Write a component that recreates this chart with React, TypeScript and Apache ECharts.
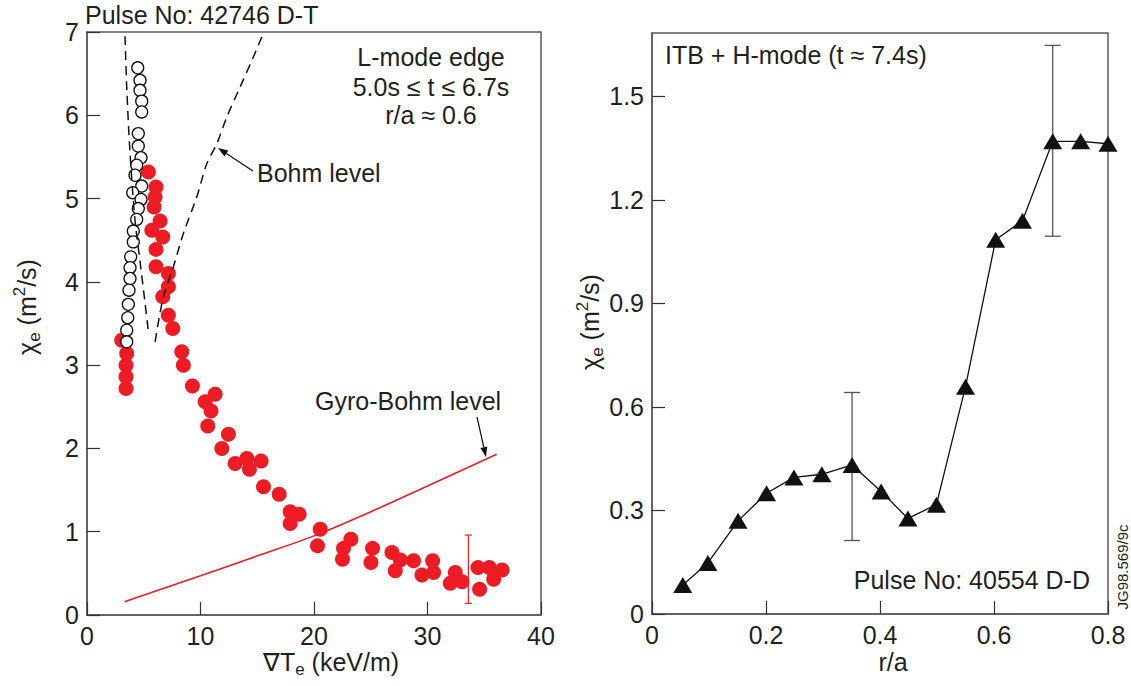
import React, { useEffect, useRef } from 'react';
import * as echarts from 'echarts';

// ---------- Left panel data (Pulse 42746 D-T) ----------
const redPoints: number[][] = [
  [3.06, 3.3], [3.5, 3.14], [3.44, 3.0], [3.44, 2.86], [3.44, 2.72],
  [5.41, 5.32], [6.08, 5.14], [6.0, 5.02], [5.91, 4.9], [6.44, 4.73],
  [5.71, 4.62], [6.68, 4.54], [6.08, 4.39], [6.08, 4.18], [7.17, 4.1],
  [7.17, 3.94], [6.68, 3.82], [7.17, 3.6], [7.56, 3.44], [8.35, 3.16],
  [8.49, 3.0], [9.29, 2.75], [10.41, 2.56], [11.29, 2.65], [10.93, 2.45],
  [10.64, 2.27], [12.46, 2.17], [11.88, 2.0], [13.05, 1.82], [14.08, 1.88],
  [14.31, 1.75], [15.34, 1.85], [15.55, 1.54], [16.93, 1.45], [17.9, 1.24],
  [18.69, 1.21], [17.9, 1.1], [20.55, 1.03], [20.31, 0.83], [23.25, 0.91],
  [22.6, 0.8], [22.51, 0.67], [25.16, 0.8], [25.02, 0.63], [26.87, 0.75],
  [27.6, 0.66], [28.77, 0.65], [27.16, 0.53], [30.45, 0.65], [30.54, 0.51],
  [29.51, 0.48], [32.45, 0.51], [32.01, 0.38], [33.04, 0.4], [34.45, 0.57],
  [35.45, 0.57], [36.57, 0.54], [35.83, 0.43], [34.59, 0.31]
];
const hollowPoints: number[][] = [
  [4.47, 6.57], [4.67, 6.42], [4.67, 6.3], [4.82, 6.17], [4.82, 6.04],
  [4.52, 5.78], [4.52, 5.63], [4.76, 5.49], [4.38, 5.4], [4.23, 5.28],
  [4.82, 5.15], [4.03, 5.07], [4.76, 4.99], [4.52, 4.88], [4.38, 4.75],
  [4.08, 4.61], [4.08, 4.48], [3.85, 4.3], [3.79, 4.17], [3.79, 4.04],
  [3.7, 3.9], [3.64, 3.73], [3.59, 3.57], [3.5, 3.42], [3.5, 3.28]
];
const bohmLeft: number[][] = [
  [3.35, 6.95], [3.5, 6.34], [3.79, 5.55], [4.23, 4.74], [4.67, 4.25], [5.11, 3.75], [5.41, 3.4]
];
const bohmRight: number[][] = [
  [6.0, 3.28], [6.73, 3.82], [7.61, 4.18], [8.49, 4.58], [9.67, 5.02], [10.56, 5.42],
  [11.44, 5.66], [12.32, 5.98], [13.49, 6.34], [14.66, 6.7], [15.49, 6.97]
];
const gyroBohm: number[][] = [
  [3.3, 0.16], [10, 0.47], [15, 0.71], [20, 0.95], [25, 1.24], [30, 1.55], [36.1, 1.93]
];
const leftErrorBars: number[][] = [[33.6, 0.14, 0.96]];

// ---------- Right panel data (Pulse 40554 D-D) ----------
const rOverA: number[] = [0.054, 0.098, 0.151, 0.201, 0.249, 0.298, 0.351, 0.402, 0.449, 0.499, 0.55, 0.603, 0.65, 0.703, 0.752, 0.8];
const chiE: number[] = [0.084, 0.148, 0.27, 0.35, 0.396, 0.405, 0.432, 0.355, 0.277, 0.317, 0.659, 1.085, 1.14, 1.37, 1.37, 1.363];
const rightErrorBars: number[][] = [[0.351, 0.213, 0.642], [0.703, 1.095, 1.648]];

const FONT = "'Liberation Sans', Arial, Helvetica, sans-serif";
const TXT = '#231f20';
const RED = '#ED1C24';
const FRAME = '#5a5a5a';

function arrow(x1: number, y1: number, x2: number, y2: number) {
  const dx = x2 - x1, dy = y2 - y1;
  const len = Math.sqrt(dx * dx + dy * dy);
  const ux = dx / len, uy = dy / len;
  const hl = 10, hw = 3.5;
  const bx = x2 - ux * hl, by = y2 - uy * hl;
  return [
    { type: 'line', shape: { x1, y1, x2: bx, y2: by }, style: { stroke: '#111', lineWidth: 1.2 }, z: 100 },
    {
      type: 'polygon',
      shape: { points: [[x2, y2], [bx - uy * hw, by + ux * hw], [bx + uy * hw, by - ux * hw]] },
      style: { fill: '#111' }, z: 100
    }
  ];
}

function txt(text: string, x: number, y: number, align: string, extra: any = {}) {
  return {
    type: 'text', x, y, z: 100,
    style: { text, fill: TXT, font: `25px ${FONT}`, align, verticalAlign: 'middle', ...extra }
  };
}

function errorBarRender(color: string, hw: number, lw: number) {
  return (params: any, api: any) => {
    const x = api.value(0), lo = api.value(1), hi = api.value(2);
    const a = api.coord([x, lo]);
    const b = api.coord([x, hi]);
    const st = { stroke: color, lineWidth: lw };
    return {
      type: 'group',
      children: [
        { type: 'line', shape: { x1: a[0], y1: a[1], x2: b[0], y2: b[1] }, style: st },
        { type: 'line', shape: { x1: a[0] - hw, y1: a[1], x2: a[0] + hw, y2: a[1] }, style: st },
        { type: 'line', shape: { x1: b[0] - hw, y1: b[1], x2: b[0] + hw, y2: b[1] }, style: st }
      ]
    };
  };
}

const axisCommon = {
  axisLine: { show: true, onZero: false, lineStyle: { color: FRAME, width: 1.5 } },
  axisTick: { show: true, inside: true, length: 13, lineStyle: { color: '#333', width: 1.2 } },
  splitLine: { show: false },
  axisLabel: { color: TXT, fontSize: 25, fontFamily: FONT }
};

const richAxis = {
  n: { fontSize: 25, fontFamily: FONT, fill: TXT, color: TXT, lineHeight: 32, verticalAlign: 'middle' },
  s: { fontSize: 17, fontFamily: FONT, fill: TXT, color: TXT, lineHeight: 17, verticalAlign: 'bottom' },
  p: { fontSize: 17, fontFamily: FONT, fill: TXT, color: TXT, lineHeight: 17, verticalAlign: 'top' }
};

export default function App() {
  const ref = useRef<HTMLDivElement>(null);
  useEffect(() => {
    if (!ref.current) return;
    const chart = echarts.init(ref.current, undefined, { renderer: 'svg' });
    const fmt = (v: number) => (v === 0 ? '0' : v.toFixed(1));
    chart.setOption({
      animation: false,
      backgroundColor: '#ffffff',
      textStyle: { fontFamily: FONT },
      grid: [
        { left: 87, right: 590, top: 32, bottom: 71, show: true, borderColor: FRAME, borderWidth: 1.5, containLabel: false },
        { left: 652, right: 23, top: 33, bottom: 72, show: true, borderColor: FRAME, borderWidth: 1.5, containLabel: false }
      ],
      xAxis: [
        { ...axisCommon, type: 'value', gridIndex: 0, min: 0, max: 40, interval: 10, axisLabel: { ...axisCommon.axisLabel, margin: 8 } },
        { ...axisCommon, type: 'value', gridIndex: 1, min: 0, max: 0.8, interval: 0.2, axisLabel: { ...axisCommon.axisLabel, margin: 8, formatter: fmt } }
      ],
      yAxis: [
        { ...axisCommon, type: 'value', gridIndex: 0, min: 0, max: 7, interval: 1, axisLabel: { ...axisCommon.axisLabel, margin: 8 } },
        { ...axisCommon, type: 'value', gridIndex: 1, min: 0, max: 1.684, interval: 0.3, axisLabel: { ...axisCommon.axisLabel, margin: 8, formatter: fmt, showMaxLabel: false } }
      ],
      series: [
        {
          type: 'line', xAxisIndex: 0, yAxisIndex: 0, data: gyroBohm, smooth: 0.3, showSymbol: false,
          lineStyle: { color: RED, width: 1.6 }, z: 2, silent: true
        },
        {
          type: 'scatter', xAxisIndex: 0, yAxisIndex: 0, data: redPoints, symbol: 'circle', symbolSize: 15,
          itemStyle: { color: RED, opacity: 1 }, z: 3
        },
        {
          type: 'scatter', xAxisIndex: 0, yAxisIndex: 0, data: hollowPoints, symbol: 'circle', symbolSize: 12,
          itemStyle: { color: '#ffffff', borderColor: '#111', borderWidth: 1.3, opacity: 1 }, z: 4
        },
        {
          type: 'line', xAxisIndex: 0, yAxisIndex: 0, data: bohmLeft, smooth: 0.3, showSymbol: false,
          lineStyle: { color: '#111', width: 1.5, type: [9, 6] }, z: 5
        },
        {
          type: 'line', xAxisIndex: 0, yAxisIndex: 0, data: bohmRight, smooth: 0.3, showSymbol: false,
          lineStyle: { color: '#111', width: 1.5, type: [9, 6] }, z: 5
        },
        {
          type: 'custom', xAxisIndex: 0, yAxisIndex: 0, data: leftErrorBars, encode: { x: 0, y: [1, 2] },
          renderItem: errorBarRender(RED, 3.5, 1.2), z: 6
        },
        {
          type: 'custom', xAxisIndex: 1, yAxisIndex: 1, data: rightErrorBars, encode: { x: 0, y: [1, 2] },
          renderItem: errorBarRender('#555', 8, 1.3), z: 2
        },
        {
          type: 'line', xAxisIndex: 1, yAxisIndex: 1, data: rOverA.map((r, i) => [r, chiE[i]]),
          symbol: 'triangle', symbolSize: [19, 16], showSymbol: true,
          itemStyle: { color: '#111', opacity: 1 }, lineStyle: { color: '#111', width: 1.3 }, z: 3
        }
      ],
      graphic: [
        txt('Pulse No: 42746 D-T', 85, 15, 'left'),
        txt('L-mode edge', 431, 57, 'center'),
        txt('5.0s \u2264 t \u2264 6.7s', 431, 87, 'center'),
        txt('r/a \u2248 0.6', 431, 115, 'center'),
        txt('Bohm level', 257, 173, 'left'),
        txt('Gyro-Bohm level', 315, 401, 'left'),
        txt('ITB + H-mode (t \u2248 7.4s)', 665, 55, 'left'),
        txt('Pulse No: 40554 D-D', 1090, 580, 'right'),
        {
          type: 'text', x: 1122, y: 567, rotation: Math.PI / 2, z: 100,
          style: { text: 'JG98.569/9c', fill: TXT, font: `15px ${FONT}`, align: 'center', verticalAlign: 'middle' }
        },
        ...arrow(253, 171, 218, 148),
        ...arrow(477, 417, 486, 457),
        {
          type: 'text', x: 331, y: 662, z: 100,
          style: { text: '{n|\u2207T}{s|e}{n| (keV/m)}', rich: richAxis, align: 'center', verticalAlign: 'middle', fill: TXT }
        },
        {
          type: 'text', x: 893, y: 662, z: 100,
          style: { text: 'r/a', fill: TXT, font: `25px ${FONT}`, align: 'center', verticalAlign: 'middle' }
        },
        {
          type: 'text', x: 27, y: 307, rotation: Math.PI / 2, z: 100,
          style: { text: '{n|\u03c7}{s|e}{n| (m}{p|2}{n|/s)}', rich: richAxis, align: 'center', verticalAlign: 'middle', fill: TXT }
        },
        {
          type: 'text', x: 590, y: 322, rotation: Math.PI / 2, z: 100,
          style: { text: '{n|\u03c7}{s|e}{n| (m}{p|2}{n|/s)}', rich: richAxis, align: 'center', verticalAlign: 'middle', fill: TXT }
        }
      ]
    });
    return () => chart.dispose();
  }, []);
  return <div ref={ref} style={{ position: 'fixed', left: 0, top: 0, width: 1131, height: 686 }} />;
}
